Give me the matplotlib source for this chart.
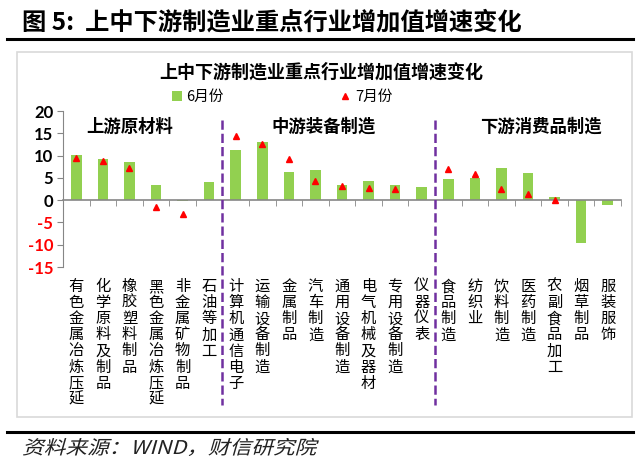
import numpy as np
import matplotlib
matplotlib.use('Agg')
import matplotlib.pyplot as plt
from matplotlib.patches import Rectangle, PathPatch, Patch
from matplotlib.lines import Line2D
from matplotlib.textpath import TextPath
from matplotlib.font_manager import FontProperties
from matplotlib.transforms import Affine2D, IdentityTransform

plt.rcParams['font.family'] = ['Noto Sans CJK SC', 'DejaVu Sans']
plt.rcParams['axes.unicode_minus'] = False

industries = ['有色金属冶炼压延', '化学原料及制品', '橡胶塑料制品', '黑色金属冶炼压延',
              '非金属矿物制品', '石油等加工',
              '计算机通信电子', '运输设备制造', '金属制品', '汽车制造', '通用设备制造',
              '电气机械及器材', '专用设备制造', '仪器仪表',
              '食品制造', '纺织业', '饮料制造', '医药制造', '农副食品加工', '烟草制品', '服装服饰']
june = [10.2, 9.2, 8.6, 3.3, -0.2, 4.0,
        11.3, 13.0, 6.4, 6.7, 3.3, 4.3, 3.3, 3.0,
        4.7, 5.0, 7.1, 6.1, 0.8, -9.7, -1.1]
july = [9.4, 8.7, 7.3, -1.6, -3.0, np.nan,
        14.4, 12.7, 9.3, 4.3, 3.1, 2.8, 2.5, np.nan,
        7.0, 5.8, 2.6, 1.3, 0.1, np.nan, np.nan]
groups = ['上游原材料', '中游装备制造', '下游消费品制造']
group_sizes = [6, 8, 7]

fig = plt.figure(figsize=(6.4, 4.66), dpi=100)
W, H = 640, 466

def fx(px):
    return px / W

def fy(py):
    return 1 - py / H

# outer frame: title, rules, chart box, source
fig.text(fx(22), fy(22), '图 5:  上中下游制造业重点行业增加值增速变化', fontsize=17.5,
         fontweight='bold', va='center', ha='left')
fig.add_artist(Line2D([fx(7), fx(633)], [fy(38.5), fy(38.5)], color='black', lw=2.2))
fig.add_artist(Line2D([fx(7), fx(633)], [fy(432), fy(432)], color='black', lw=2.2))
fig.add_artist(Rectangle((fx(17), fy(417)), fx(632 - 17), (417 - 52) / H,
                         fill=False, edgecolor='#D9D9D9', lw=1.2))

# source line, slanted to look italic
src = TextPath((0, 0), '资料来源：WIND，财信研究院', size=19,
               prop=FontProperties(family='Noto Sans CJK SC'))
src_tr = Affine2D().skew_deg(14, 0).scale(1.14, 1.0).translate(22, H - 454)
fig.add_artist(PathPatch(src, transform=src_tr + IdentityTransform(),
                         facecolor='#222222', edgecolor='none'))

fig.text(fx(321), fy(72), '上中下游制造业重点行业增加值增速变化', fontsize=13,
         fontweight='bold', va='center', ha='center')

ax = fig.add_axes([fx(63), fy(267), fx(621 - 63), (267 - 111) / H])
x = np.arange(len(industries))
ax.bar(x, june, width=0.4, color='#92D050', zorder=2)
ax.plot(x, july, linestyle='none', marker='^', color='#FF0000', markersize=5, zorder=3)

ax.set_xlim(-0.5, len(industries) - 0.5)
ax.set_ylim(-15, 20)
ax.set_yticks([20, 15, 10, 5, 0, -5, -10, -15])
ax.tick_params(axis='y', direction='out', length=4, color='#868686', pad=3)
for t in ax.get_yticklabels():
    t.set_fontweight('bold')
    t.set_fontfamily(['Lato', 'DejaVu Sans'])
    t.set_fontsize(12)
    if t.get_text().startswith('-'):
        t.set_color('#FF0000')

for s in ['top', 'right']:
    ax.spines[s].set_visible(False)
ax.spines['left'].set_color('#868686')
ax.spines['bottom'].set_position(('data', 0))
ax.spines['bottom'].set_color('#868686')
ax.spines['bottom'].set_linewidth(1.2)
ax.set_xticks(x)
ax.set_xticklabels([])
ax.tick_params(axis='x', which='major', length=0)
ax.set_xticks(np.arange(len(industries) + 1) - 0.5, minor=True)
ax.tick_params(axis='x', which='minor', direction='out', length=4, color='#868686')

for i, name in enumerate(industries):
    ax.annotate('\n'.join(name), xy=(i, 0), xycoords=('data', 'axes fraction'),
                xytext=(0, -8), textcoords='offset points', ha='center', va='top',
                fontsize=11, linespacing=0.93)

# group dividers and labels
bounds = np.cumsum(group_sizes)[:-1] - 0.5
for b in bounds:
    ax.plot([b, b], [18, -46], color='#7030A0', linestyle='--', lw=1.8,
            clip_on=False, zorder=4)
label_x = [2.0, 9.3, 17.5]
for g, gx in zip(groups, label_x):
    ax.text(gx, 16.5, g, fontsize=12.5, fontweight='bold', ha='center', va='center')

handles = [Patch(facecolor='#92D050', label='6月份'),
           Line2D([], [], linestyle='none', marker='^', color='#FF0000',
                  markersize=4, label='7月份')]
ax.legend(handles=handles, loc='center', bbox_to_anchor=(fx(282), fy(97)),
          bbox_transform=fig.transFigure, ncol=2, frameon=False, fontsize=10.5,
          handlelength=0.7, handleheight=0.7, handletextpad=0.3, columnspacing=8)

fig.savefig('out.png', dpi=100)
